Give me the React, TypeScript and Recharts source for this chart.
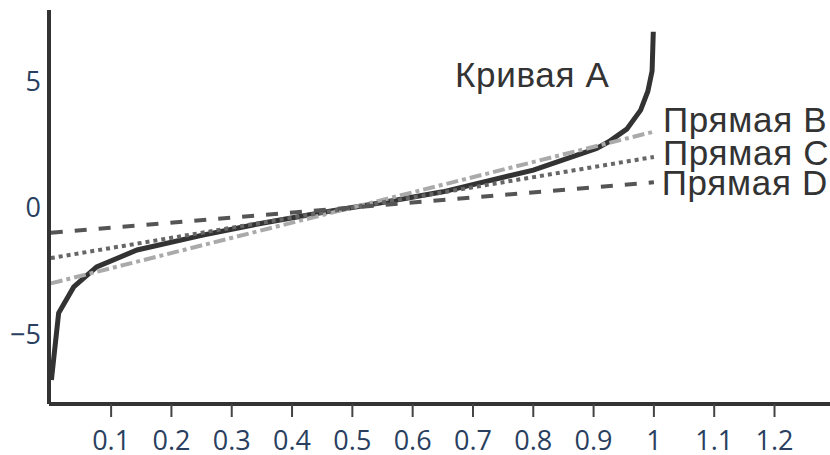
import React from 'react';
import { LineChart, Line, XAxis, YAxis, ReferenceDot } from 'recharts';

// Кривая A (logit-like curve)
const curveX = [0.001, 0.013, 0.038, 0.076, 0.143, 0.25, 0.35, 0.45, 0.55, 0.65, 0.8, 0.905, 0.925, 0.955, 0.978, 0.99, 0.997, 0.999];
const curveY = [-6.82, -4.17, -3.14, -2.35, -1.68, -1.1, -0.62, -0.2, 0.2, 0.62, 1.48, 2.34, 2.6, 3.1, 3.85, 4.6, 5.4, 6.95];

// straight lines
const lineX = [0, 1];
const lineBY = [-3, 3];
const lineCY = [-2, 2];
const lineDY = [-1, 1];

const xTicks = [0.1, 0.2, 0.3, 0.4, 0.5, 0.6, 0.7, 0.8, 0.9, 1, 1.1, 1.2];
const yTicks = [-5, 0, 5];

const labelNames = ['Кривая A', 'Прямая B', 'Прямая C', 'Прямая D'];
const labelX = [0.67, 1.015, 1.015, 1.013];
const labelY = [4.76, 2.98, 1.68, 0.49];

const toPoints = (xs: number[], ys: number[]) => xs.map((x, i) => ({ x, y: ys[i] }));

const dataA = toPoints(curveX, curveY);
const dataB = toPoints(lineX, lineBY);
const dataC = toPoints(lineX, lineCY);
const dataD = toPoints(lineX, lineDY);

const tickStyle = { fill: '#2a3f5f', fontSize: 27, fontFamily: '"Open Sans", sans-serif' };

const fmtY = (v: number) => (v < 0 ? '\u2212' + Math.abs(v) : String(v));

const annotation = (text: string) => (props: any) => {
  const { x, y } = props.viewBox;
  return (
    <text
      x={x}
      y={y}
      fill="#333"
      fontSize={35}
      letterSpacing={0.7}
      fontFamily='"Liberation Sans", Arial, sans-serif'
      textAnchor="start"
    >
      {text}
    </text>
  );
};

export default function App() {
  return (
    <div style={{ position: 'absolute', left: 0, top: 0, background: '#fff' }}>
      <LineChart width={830} height={455} margin={{ top: 10, right: 0, left: 0, bottom: 0 }}>
        <XAxis
          dataKey="x"
          type="number"
          domain={[-0.003, 1.292]}
          allowDataOverflow
          ticks={xTicks}
          tickFormatter={(v: number) => String(v)}
          height={51}
          axisLine={{ stroke: '#333', strokeWidth: 4 }}
          tickLine={{ stroke: '#444', strokeWidth: 2 }}
          tickSize={13}
          tickMargin={14}
          tick={tickStyle}
        />
        <YAxis
          dataKey="y"
          type="number"
          domain={[-7.77, 7.81]}
          allowDataOverflow
          ticks={yTicks}
          tickFormatter={fmtY}
          width={49}
          axisLine={{ stroke: '#333', strokeWidth: 4 }}
          tickLine={false}
          tickSize={0}
          tickMargin={8}
          tick={tickStyle}
        />
        <Line data={dataA} dataKey="y" stroke="#333" strokeWidth={5} dot={false} isAnimationActive={false} />
        <Line data={dataB} dataKey="y" stroke="#aaa" strokeWidth={4} strokeDasharray="12 4 4 4" dot={false} isAnimationActive={false} />
        <Line data={dataC} dataKey="y" stroke="#666" strokeWidth={4} strokeDasharray="4 4" dot={false} isAnimationActive={false} />
        <Line data={dataD} dataKey="y" stroke="#555" strokeWidth={4} strokeDasharray="12 12" dot={false} isAnimationActive={false} />
        {labelNames.map((name, i) => (
          <ReferenceDot
            key={name}
            x={labelX[i]}
            y={labelY[i]}
            r={0}
            fill="none"
            stroke="none"
            label={{ content: annotation(name) }}
          />
        ))}
      </LineChart>
    </div>
  );
}
